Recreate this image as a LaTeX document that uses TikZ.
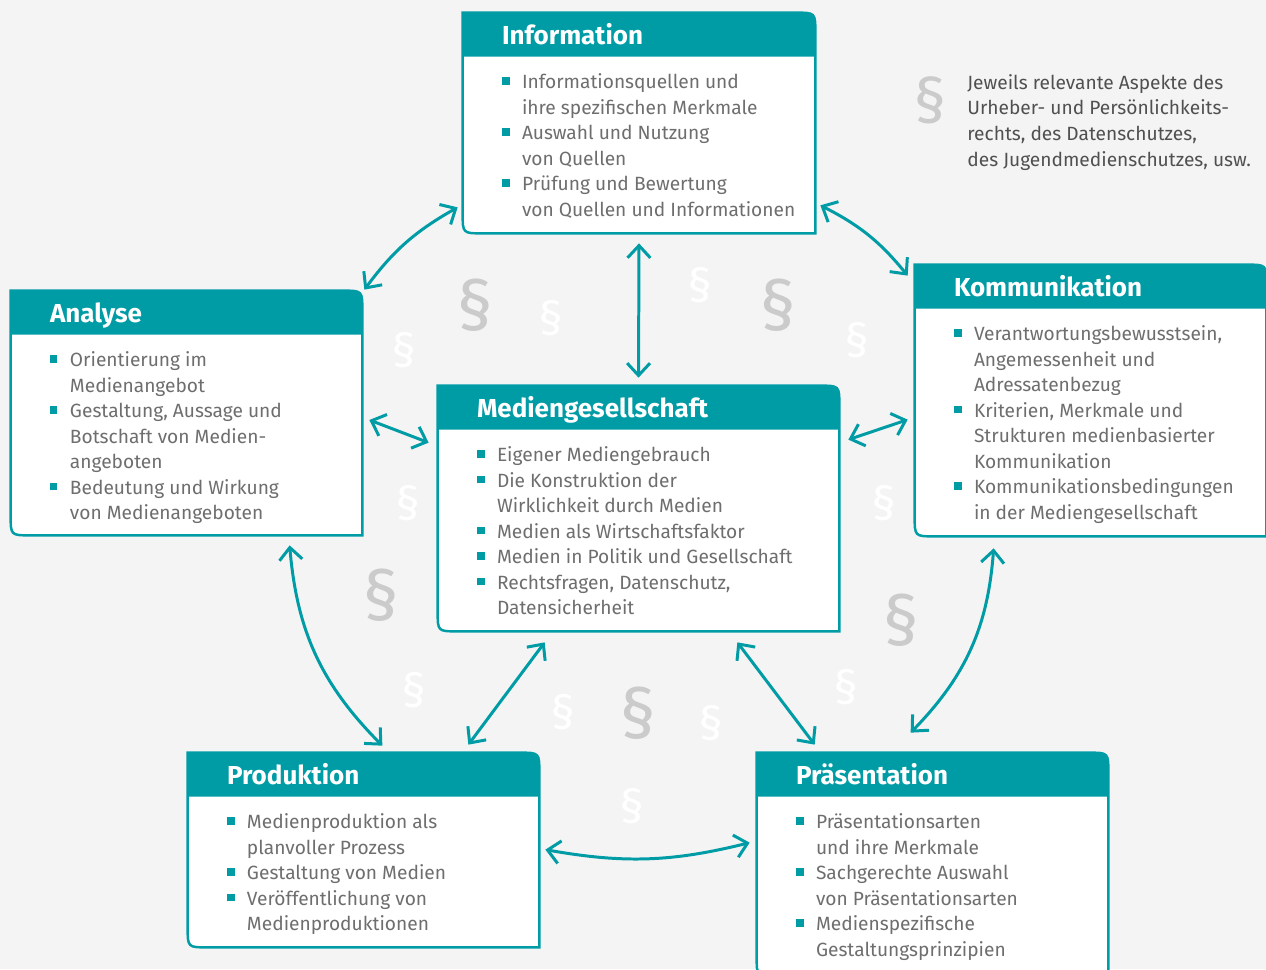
\documentclass[tikz,border=0pt]{standalone}
\usepackage{fontspec}
\setmainfont{Fira Sans}
\usetikzlibrary{arrows.meta,positioning,fit}
\definecolor{tuerkis}{HTML}{009CA6}
\definecolor{hgrund}{HTML}{F4F4F4}
\definecolor{textgrau}{HTML}{6E6E6E}
\definecolor{legendgrau}{HTML}{505050}
\definecolor{paragrau}{HTML}{CBCBCB}
\newcommand{\pkt}{\makebox[0.4cm][l]{\textcolor{tuerkis}{\rule[0.08cm]{0.15cm}{0.15cm}}}}
\newcommand{\ein}{\hspace*{0.4cm}}
\newcommand{\kasten}[1]{(#1.north west) -- ([shift={(-20,0)}]#1.north east) .. controls (#1.north east) .. ([shift={(0,20)}]#1.north east) -- (#1.south east) -- ([shift={(20,0)}]#1.south west) .. controls (#1.south west) .. ([shift={(0,-20)}]#1.south west) -- cycle}
\newcommand{\kopf}[1]{(#1.north west) -- ([shift={(-20,0)}]#1.north east) .. controls (#1.north east) .. ([shift={(0,20)}]#1.north east) -- ([shift={(0,44)}]#1.north east) -- ([shift={(0,44)}]#1.north west) -- cycle}

\begin{document}
\begin{tikzpicture}[x=0.02cm,y=-0.02cm,>={Straight Barb[length=7pt,width=13pt]},
  feld/.style={inner sep=0pt},
  titel/.style={anchor=base west,inner sep=0pt,text=white,font=\fontsize{14.8}{16}\selectfont\bfseries},
  liste/.style={anchor=north west,inner sep=0pt,align=left,text=textgrau,font=\fontsize{10.9}{14.5}\selectfont},
  pfeil/.style={<->,tuerkis,line width=1.7pt},
  grpara/.style={text=paragrau,font=\fontsize{40}{40}\selectfont},
  klpara/.style={text=white,font=\fontsize{27}{27}\selectfont}]
\useasboundingbox (0,0) rectangle (1266,969);
\clip (0,0) rectangle (1266,969);
\fill[hgrund] (0,0) rectangle (1266,969);

% Paragraphen im Hintergrund
\node[grpara] (p1) at (475,305) {§};
\node[grpara] (p2) at (778,305) {§};
\node[grpara] (p3) at (381,595) {§};
\node[grpara] (p4) at (901,620) {§};
\node[grpara] (p5) at (638,713) {§};
\node[klpara] (p6) at (551,318) {§};
\node[klpara] (p7) at (404,350) {§};
\node[klpara] (p8) at (700,285) {§};
\node[klpara] (p9) at (857,340) {§};
\node[klpara] (p10) at (408,503) {§};
\node[klpara] (p11) at (884,503) {§};
\node[klpara] (p12) at (414,690) {§};
\node[klpara] (p13) at (563,712) {§};
\node[klpara] (p14) at (711,723) {§};
\node[klpara] (p15) at (846,687) {§};
\node[klpara] (p16) at (632,806) {§};

% Legende
\node[text=paragrau,font=\fontsize{36}{36}\selectfont] (lp) at (930,100) {§};
\node[anchor=north west,inner sep=0pt,align=left,text=legendgrau,font=\fontsize{10.9}{14.6}\selectfont] (legende) at (967,74)
  {Jeweils relevante Aspekte des\\Urheber- und Persönlichkeits-\\rechts, des Datenschutzes,\\des Jugendmedienschutzes, usw.};

% Kaesten
\node[feld,fit={(463,13) (815,233)}] (info) {};
\node[feld,fit={(11,291) (362,535)}] (analyse) {};
\node[feld,fit={(438,386) (839,631)}] (medien) {};
\node[feld,fit={(915,265) (1266,536)}] (komm) {};
\node[feld,fit={(188,753) (539,947)}] (prod) {};
\node[feld,fit={(757,753) (1108,976)}] (praes) {};
\foreach \k in {info,analyse,medien,komm,prod,praes} {
  \fill[white] \kasten{\k};
  \fill[tuerkis] \kopf{\k};
  \draw[tuerkis,line width=1.4pt] \kasten{\k};
}

\node[titel] (infot) at ([shift={(39,32)}]info.north west) {Information};
\node[liste] (infol) at ([shift={(39,61)}]info.north west)
  {\pkt Informationsquellen und\\ \ein ihre spezifischen Merkmale\\ \pkt Auswahl und Nutzung\\ \ein von Quellen\\ \pkt Prüfung und Bewertung\\ \ein von Quellen und Informationen};

\node[titel] (analyset) at ([shift={(39,32)}]analyse.north west) {Analyse};
\node[liste] (analysel) at ([shift={(39,61)}]analyse.north west)
  {\pkt Orientierung im\\ \ein Medienangebot\\ \pkt Gestaltung, Aussage und\\ \ein Botschaft von Medien-\\ \ein angeboten\\ \pkt Bedeutung und Wirkung\\ \ein von Medienangeboten};

\node[titel] (medient) at ([shift={(39,32)}]medien.north west) {Mediengesellschaft};
\node[liste] (medienl) at ([shift={(39,61)}]medien.north west)
  {\pkt Eigener Mediengebrauch\\ \pkt Die Konstruktion der\\ \ein Wirklichkeit durch Medien\\ \pkt Medien als Wirtschaftsfaktor\\ \pkt Medien in Politik und Gesellschaft\\ \pkt Rechtsfragen, Datenschutz,\\ \ein Datensicherheit};

\node[titel] (kommt) at ([shift={(39,32)}]komm.north west) {Kommunikation};
\node[liste] (komml) at ([shift={(39,61)}]komm.north west)
  {\pkt Verantwortungsbewusstsein,\\ \ein Angemessenheit und\\ \ein Adressatenbezug\\ \pkt Kriterien, Merkmale und\\ \ein Strukturen medienbasierter\\ \ein Kommunikation\\ \pkt Kommunikationsbedingungen\\ \ein in der Mediengesellschaft};

\node[titel] (prodt) at ([shift={(39,32)}]prod.north west) {Produktion};
\node[liste] (prodl) at ([shift={(39,61)}]prod.north west)
  {\pkt Medienproduktion als\\ \ein planvoller Prozess\\ \pkt Gestaltung von Medien\\ \pkt Veröffentlichung von\\ \ein Medienproduktionen};

\node[titel] (praest) at ([shift={(39,32)}]praes.north west) {Präsentation};
\node[liste] (praesl) at ([shift={(39,61)}]praes.north west)
  {\pkt Präsentationsarten\\ \ein und ihre Merkmale\\ \pkt Sachgerechte Auswahl\\ \ein von Präsentationsarten\\ \pkt Medienspezifische\\ \ein Gestaltungsprinzipien};

% Pfeile
\draw[pfeil] ([shift={(-5,-26)}]info.south west) to[bend right=12] ([shift={(2,-1)}]analyse.north east);
\draw[pfeil] ([shift={(5,-28)}]info.south east) to[bend left=12] ([shift={(-7,11)}]komm.north west);
\draw[pfeil] ([shift={(0,10)}]info.south) -- ([shift={(0,-8)}]medien.north);
\draw[pfeil] ([shift={(7,7)}]analyse.east) -- ([shift={(-9,57)}]medien.north west);
\draw[pfeil] ([shift={(9,54)}]medien.north east) -- ([shift={(-7,155)}]komm.north west);
\draw[pfeil] ([shift={(279,10)}]analyse.south west) to[bend right=20] ([shift={(-157,-7)}]prod.north east);
\draw[pfeil] ([shift={(79,12)}]komm.south west) to[bend left=20] ([shift={(154,-20)}]praes.north west);
\draw[pfeil] ([shift={(107,11)}]medien.south west) -- ([shift={(-71,-8)}]prod.north east);
\draw[pfeil] ([shift={(-102,11)}]medien.south east) -- ([shift={(58,-8)}]praes.north west);
\draw[pfeil] ([shift={(6,97)}]prod.north east) to[bend right=12] ([shift={(-7,90)}]praes.north west);
\end{tikzpicture}
\end{document}
